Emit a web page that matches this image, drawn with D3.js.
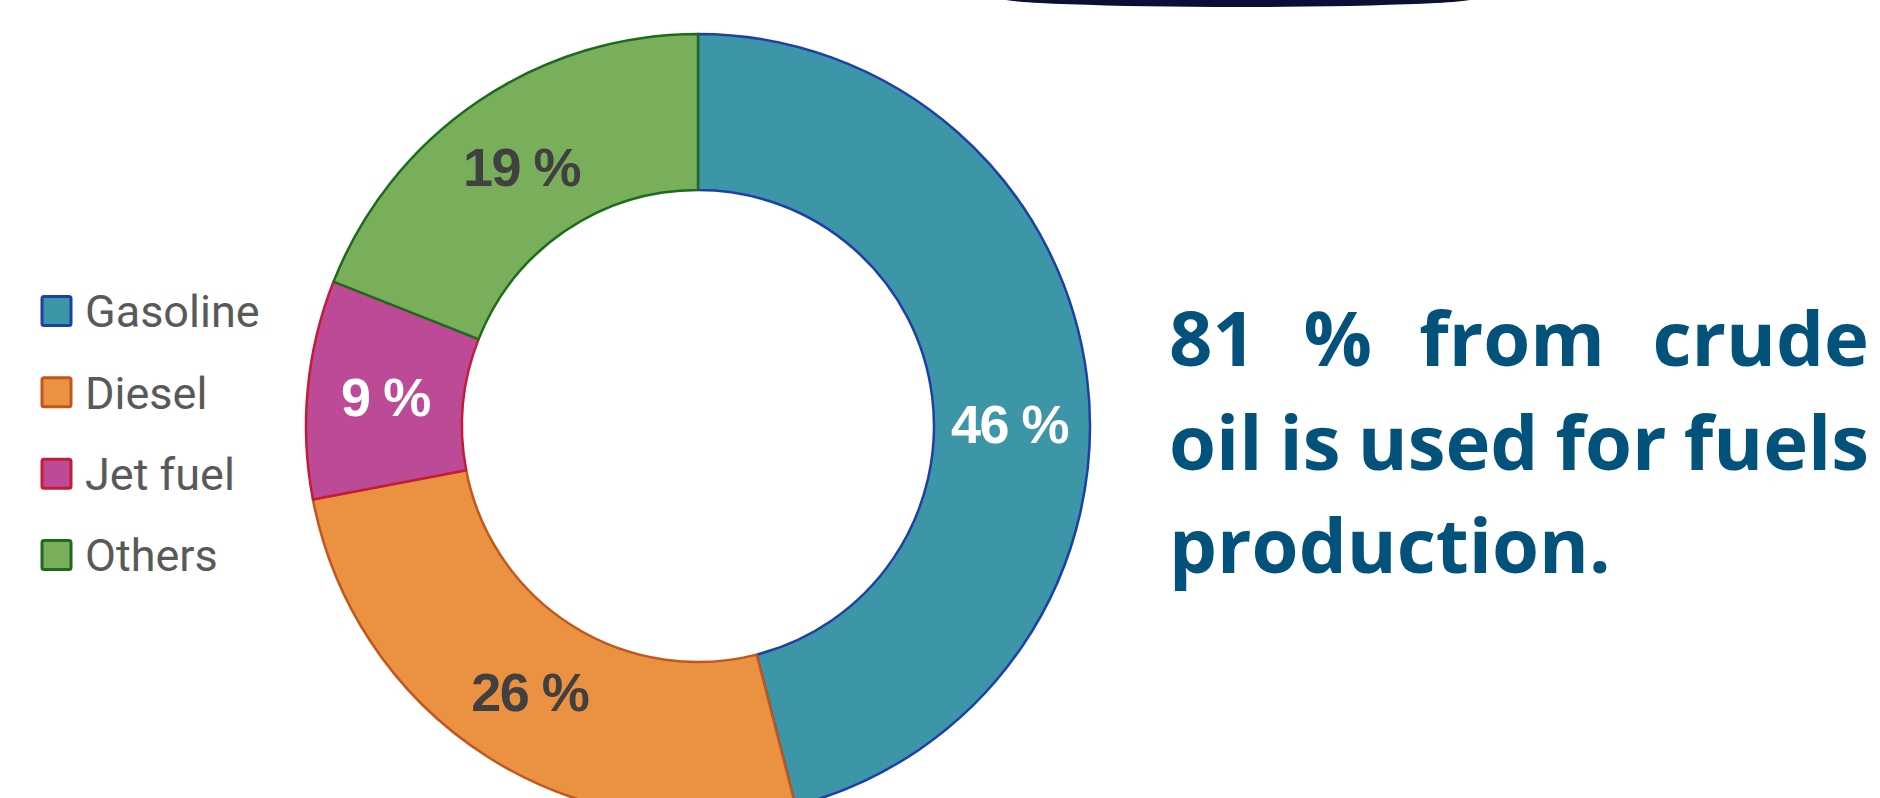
<!DOCTYPE html>
<html>
<head>
<meta charset="utf-8">
<script src="https://cdn.jsdelivr.net/npm/d3@7"></script>
<style>
  html, body { margin: 0; padding: 0; background: #fff; }
  svg { display: block; }
</style>
</head>
<body>
<div id="chart"></div>
<script>
// shares of crude oil products (percent)
const categories = ['Gasoline', 'Diesel', 'Jet fuel', 'Others'];
const shares = [46, 26, 9, 19];
const fillColors = ['#3d95a8', '#eb9142', '#bd4a96', '#79af5a'];
const strokeColors = ['#1d40a8', '#c2561c', '#c41c36', '#1d6b1f'];
const labelColors = ['#ffffff', '#404040', '#ffffff', '#404040'];
const headlineLines = [
  ['81', '%', 'from', 'crude'],
  ['oil', 'is', 'used', 'for', 'fuels'],
  ['production.'],
];

const width = 1880;
const height = 798;

const svg = d3
  .select('#chart')
  .append('svg')
  .attr('width', width)
  .attr('height', height)
  .attr('viewBox', [0, 0, width, height]);

// dark tab peeking in at the top edge
svg
  .append('ellipse')
  .attr('cx', 1238)
  .attr('cy', -2)
  .attr('rx', 238)
  .attr('ry', 9)
  .attr('fill', '#0a0f35');

const data = categories.map((name, i) => ({ name, value: shares[i], i }));

const cx = 698;
const cy = 426;
const outerR = 392;
const innerR = 236;

const pie = d3.pie().sort(null).value((d) => d.value);
const arc = d3.arc().innerRadius(innerR).outerRadius(outerR);
const arcs = pie(data);

const donut = svg.append('g').attr('transform', `translate(${cx},${cy})`);

donut
  .selectAll('path')
  .data(arcs)
  .join('path')
  .attr('d', arc)
  .attr('fill', (d) => fillColors[d.data.i])
  .attr('stroke', (d) => strokeColors[d.data.i])
  .attr('stroke-width', 2.5)
  .attr('stroke-linejoin', 'round');

// the big slice label sits level with the hole centre in the original
const labelNudge = { Gasoline: [0, 37] };

donut
  .selectAll('text')
  .data(arcs)
  .join('text')
  .attr('transform', (d) => {
    const [x, y] = arc.centroid(d);
    const [nx, ny] = labelNudge[d.data.name] || [0, 0];
    return `translate(${x + nx},${y + ny})`;
  })
  .attr('text-anchor', 'middle')
  .attr('dy', '0.36em')
  .attr('font-family', '"Liberation Sans", Arial, sans-serif')
  .attr('font-weight', 700)
  .attr('font-size', 54)
  .attr('letter-spacing', -1.5)
  .attr('fill', (d) => labelColors[d.data.i])
  .text((d) => `${d.data.value} %`);

// legend
const legendY = d3.scalePoint().domain(categories).range([311, 555]);

const legend = svg
  .append('g')
  .selectAll('g')
  .data(data)
  .join('g')
  .attr('transform', (d) => `translate(0,${legendY(d.name)})`);

legend
  .append('rect')
  .attr('x', 42)
  .attr('y', -14.5)
  .attr('width', 29)
  .attr('height', 29)
  .attr('rx', 2)
  .attr('fill', (d) => fillColors[d.i])
  .attr('stroke', (d) => strokeColors[d.i])
  .attr('stroke-width', 3);

legend
  .append('text')
  .attr('x', 85)
  .attr('dy', '0.36em')
  .attr('font-family', 'Roboto, sans-serif')
  .attr('font-size', 45)
  .attr('fill', '#595959')
  .text((d) => d.name);

// justified headline on the right
const textLeft = 1169;
const textRight = 1869;
const headline = svg
  .append('g')
  .attr('font-family', '"Open Sans", sans-serif')
  .attr('font-weight', 700)
  .attr('font-size', 76)
  .attr('fill', '#03527b');

headlineLines.forEach((words, li) => {
  const baseline = 366 + li * 103.5;
  const last = li === headlineLines.length - 1;
  const nodes = words.map((w) =>
    headline.append('text').attr('y', baseline).text(w),
  );
  const widths = nodes.map((n) => n.node().getComputedTextLength());
  const space = 0.26 * 76;
  const gap = last
    ? space
    : (textRight - textLeft - d3.sum(widths)) / Math.max(1, words.length - 1);
  let x = textLeft;
  nodes.forEach((n, i) => {
    n.attr('x', x);
    x += widths[i] + gap;
  });
});
</script>
</body>
</html>
